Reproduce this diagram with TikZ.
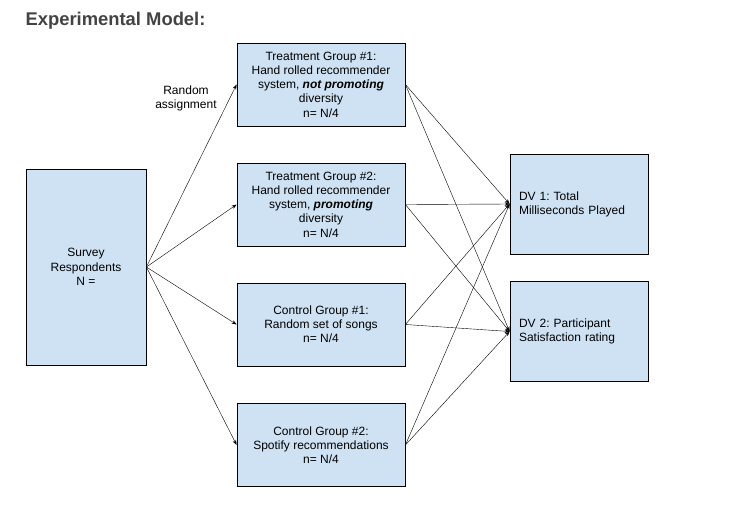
\documentclass[tikz,border=0pt]{standalone}
\usepackage{fontspec}
\setmainfont{Liberation Sans}
\usetikzlibrary{arrows.meta}
\definecolor{boxblue}{HTML}{CFE2F3}
\definecolor{titlegray}{HTML}{434343}
\frenchspacing

\begin{document}
\begin{tikzpicture}[x=1pt,y=-1pt,
    box/.style={draw=black,fill=boxblue,line width=0.8pt,inner sep=0pt,align=center,
        font=\fontsize{12}{14.2}\selectfont},
    groupbox/.style={box,minimum width=168pt,minimum height=83pt},
    dvbox/.style={box,minimum width=138pt,minimum height=100pt,text width=120pt,align=left},
    >={Stealth[length=5pt,width=3.6pt]}]
    \useasboundingbox (0,0) rectangle (739,504);

    \node[anchor=west,text=titlegray,font=\fontsize{18.4}{21}\selectfont\bfseries] (title) at (22,21) {Experimental Model:};

    %respondents
    \node[box,minimum width=120pt,minimum height=196pt] (survey) at (86,267) {Survey\\Respondents\\N =};
    \node[align=center,font=\fontsize{12}{14.2}\selectfont] (assign) at (186,98) {Random\\assignment};

    %groups
    \node[groupbox] (tg1) at (321,84.5) {Treatment Group \#1:\\Hand rolled recommender\\system, \textbf{\textit{not promoting}}\\diversity\\n= N/4};
    \node[groupbox] (tg2) at (321,204.5) {Treatment Group \#2:\\Hand rolled recommender\\system, \textbf{\textit{promoting}}\\diversity\\n= N/4};
    \node[groupbox] (cg1) at (321,324.5) {Control Group \#1:\\Random set of songs\\n= N/4};
    \node[groupbox] (cg2) at (321,445) {Control Group \#2:\\Spotify recommendations\\n= N/4};

    %outcomes
    \node[dvbox] (dv1) at (579,204) {DV 1: Total\\Milliseconds Played};
    \node[dvbox] (dv2) at (579,331.5) {DV 2: Participant\\Satisfaction rating};

    \path [->] (survey.east) edge (tg1.west);
    \path [->] (survey.east) edge (tg2.west);
    \path [->] (survey.east) edge (cg1.west);
    \path [->] (survey.east) edge (cg2.west);

    \path [->] (tg1.east) edge (dv1.west);
    \path [->] (tg1.east) edge (dv2.west);
    \path [->] (tg2.east) edge (dv1.west);
    \path [->] (tg2.east) edge (dv2.west);
    \path [->] (cg1.east) edge (dv1.west);
    \path [->] (cg1.east) edge (dv2.west);
    \path [->] (cg2.east) edge (dv1.west);
    \path [->] (cg2.east) edge (dv2.west);
\end{tikzpicture}
\end{document}
